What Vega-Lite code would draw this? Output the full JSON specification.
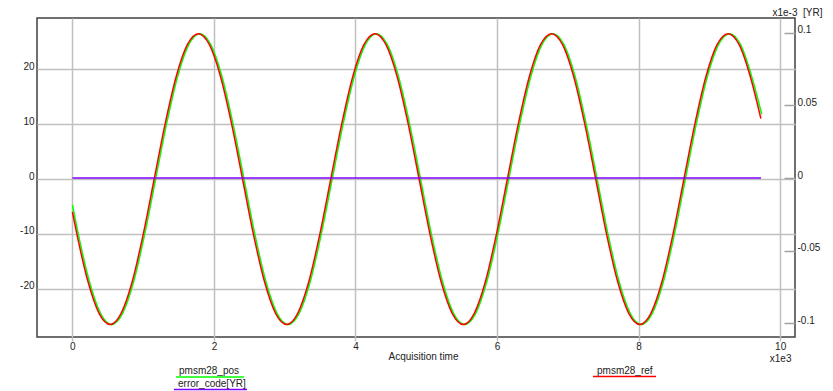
{
  "$schema": "https://vega.github.io/schema/vega-lite/v6.json",
  "width": 758,
  "height": 319,
  "autosize": {"type": "none"},
  "padding": {"left": 37, "top": 18, "right": 38, "bottom": 54},
  "background": "white",
  "config": {
    "view": {"stroke": "#404040", "strokeWidth": 1.5},
    "font": "Liberation Sans"
  },
  "datasets": {
    "pos": [
      {"t": 0, "v": -4.7}, {"t": 0.085, "v": -10.14}, {"t": 0.241, "v": -18.74}, {"t": 0.397, "v": -24.48},
      {"t": 0.553, "v": -26.5}, {"t": 0.709, "v": -24.48}, {"t": 0.865, "v": -18.74}, {"t": 1.02, "v": -10.14},
      {"t": 1.176, "v": 0}, {"t": 1.332, "v": 10.14}, {"t": 1.488, "v": 18.74}, {"t": 1.644, "v": 24.48},
      {"t": 1.8, "v": 26.5}, {"t": 1.956, "v": 24.48}, {"t": 2.112, "v": 18.74}, {"t": 2.268, "v": 10.14},
      {"t": 2.424, "v": 0}, {"t": 2.579, "v": -10.14}, {"t": 2.735, "v": -18.74}, {"t": 2.891, "v": -24.48},
      {"t": 3.048, "v": -26.5}, {"t": 3.204, "v": -24.48}, {"t": 3.36, "v": -18.74}, {"t": 3.515, "v": -10.14},
      {"t": 3.671, "v": 0}, {"t": 3.827, "v": 10.14}, {"t": 3.983, "v": 18.74}, {"t": 4.139, "v": 24.48},
      {"t": 4.295, "v": 26.5}, {"t": 4.451, "v": 24.48}, {"t": 4.607, "v": 18.74}, {"t": 4.763, "v": 10.14},
      {"t": 4.919, "v": 0}, {"t": 5.074, "v": -10.14}, {"t": 5.23, "v": -18.74}, {"t": 5.386, "v": -24.48},
      {"t": 5.543, "v": -26.5}, {"t": 5.699, "v": -24.48}, {"t": 5.855, "v": -18.74}, {"t": 6.01, "v": -10.14},
      {"t": 6.166, "v": 0}, {"t": 6.322, "v": 10.14}, {"t": 6.478, "v": 18.74}, {"t": 6.634, "v": 24.48},
      {"t": 6.79, "v": 26.5}, {"t": 6.946, "v": 24.48}, {"t": 7.102, "v": 18.74}, {"t": 7.258, "v": 10.14},
      {"t": 7.414, "v": 0}, {"t": 7.569, "v": -10.14}, {"t": 7.725, "v": -18.74}, {"t": 7.881, "v": -24.48},
      {"t": 8.038, "v": -26.5}, {"t": 8.194, "v": -24.48}, {"t": 8.35, "v": -18.74}, {"t": 8.505, "v": -10.14},
      {"t": 8.661, "v": 0}, {"t": 8.817, "v": 10.14}, {"t": 8.973, "v": 18.74}, {"t": 9.129, "v": 24.48},
      {"t": 9.285, "v": 26.5}, {"t": 9.441, "v": 24.48}, {"t": 9.597, "v": 18.74}, {"t": 9.74, "v": 11.8}
    ],
    "ref": [
      {"t": 0, "v": -6.0}, {"t": 0.065, "v": -10.14}, {"t": 0.221, "v": -18.74}, {"t": 0.377, "v": -24.48},
      {"t": 0.533, "v": -26.5}, {"t": 0.689, "v": -24.48}, {"t": 0.845, "v": -18.74}, {"t": 1.0, "v": -10.14},
      {"t": 1.156, "v": 0}, {"t": 1.312, "v": 10.14}, {"t": 1.468, "v": 18.74}, {"t": 1.624, "v": 24.48},
      {"t": 1.78, "v": 26.5}, {"t": 1.936, "v": 24.48}, {"t": 2.092, "v": 18.74}, {"t": 2.248, "v": 10.14},
      {"t": 2.404, "v": 0}, {"t": 2.559, "v": -10.14}, {"t": 2.715, "v": -18.74}, {"t": 2.871, "v": -24.48},
      {"t": 3.028, "v": -26.5}, {"t": 3.184, "v": -24.48}, {"t": 3.34, "v": -18.74}, {"t": 3.495, "v": -10.14},
      {"t": 3.651, "v": 0}, {"t": 3.807, "v": 10.14}, {"t": 3.963, "v": 18.74}, {"t": 4.119, "v": 24.48},
      {"t": 4.275, "v": 26.5}, {"t": 4.431, "v": 24.48}, {"t": 4.587, "v": 18.74}, {"t": 4.743, "v": 10.14},
      {"t": 4.899, "v": 0}, {"t": 5.054, "v": -10.14}, {"t": 5.21, "v": -18.74}, {"t": 5.366, "v": -24.48},
      {"t": 5.523, "v": -26.5}, {"t": 5.679, "v": -24.48}, {"t": 5.835, "v": -18.74}, {"t": 5.99, "v": -10.14},
      {"t": 6.146, "v": 0}, {"t": 6.302, "v": 10.14}, {"t": 6.458, "v": 18.74}, {"t": 6.614, "v": 24.48},
      {"t": 6.77, "v": 26.5}, {"t": 6.926, "v": 24.48}, {"t": 7.082, "v": 18.74}, {"t": 7.238, "v": 10.14},
      {"t": 7.394, "v": 0}, {"t": 7.549, "v": -10.14}, {"t": 7.705, "v": -18.74}, {"t": 7.861, "v": -24.48},
      {"t": 8.018, "v": -26.5}, {"t": 8.174, "v": -24.48}, {"t": 8.33, "v": -18.74}, {"t": 8.485, "v": -10.14},
      {"t": 8.641, "v": 0}, {"t": 8.797, "v": 10.14}, {"t": 8.953, "v": 18.74}, {"t": 9.109, "v": 24.48},
      {"t": 9.265, "v": 26.5}, {"t": 9.421, "v": 24.48}, {"t": 9.577, "v": 18.74}, {"t": 9.728, "v": 11.0}
    ],
    "err": [
      {"t": 0, "v": 0}, {"t": 9.73, "v": 0}
    ]
  },
  "layer": [
    {
      "data": {"name": "pos"},
      "mark": {"type": "line", "interpolate": "monotone", "strokeWidth": 1.5, "clip": true},
      "encoding": {
        "x": {
          "field": "t", "type": "quantitative",
          "scale": {"domain": [-0.5, 10.21], "nice": false, "zero": false},
          "axis": {
            "values": [0, 2, 4, 6, 8, 10], "grid": true, "gridColor": "#c0c0c0", "gridWidth": 1.5,
            "domain": false, "ticks": true, "tickColor": "#c0c0c0", "tickSize": 4, "tickWidth": 1.5,
            "labelFont": "Liberation Sans", "labelFontSize": 10, "labelColor": "#222", "labelPadding": 0,
            "labelFlush": false, "labelOverlap": false, "labelLineHeight": 12,
            "labelExpr": "datum.value == 10 ? ['10', 'x1e3'] : '' + datum.value",
            "title": "Acquisition time", "titleFont": "Liberation Sans", "titleFontSize": 10,
            "titleFontWeight": "normal", "titleColor": "#222", "titleX": 386, "titleY": 19,
            "titleBaseline": "middle", "titleAlign": "center"
          }
        },
        "y": {
          "field": "v", "type": "quantitative",
          "scale": {"domain": [-28.8, 29.35], "nice": false, "zero": false},
          "axis": {
            "values": [-20, -10, 0, 10, 20], "grid": true, "gridColor": "#c0c0c0", "gridWidth": 1.5,
            "domain": false, "ticks": false, "labelPadding": 3, "labelBaseline": "alphabetic",
            "labelFont": "Liberation Sans", "labelFontSize": 10, "labelColor": "#222",
            "labelExpr": "'' + datum.value", "title": null
          }
        },
        "color": {
          "datum": "pmsm28_pos",
          "scale": {"range": ["#00ff00"]},
          "legend": {
            "orient": "none", "legendX": 138, "legendY": 318, "title": null,
            "symbolType": "M-1,0.176L1,0.176", "symbolSize": 4624, "symbolStrokeWidth": 1.5,
            "labelOffset": -66, "labelFont": "Liberation Sans", "labelFontSize": 10, "labelColor": "#222"
          }
        }
      }
    },
    {
      "data": {"name": "ref"},
      "mark": {"type": "line", "interpolate": "monotone", "strokeWidth": 1.5, "clip": true},
      "encoding": {
        "x": {
          "field": "t", "type": "quantitative",
          "scale": {"domain": [-0.5, 10.21], "nice": false, "zero": false}
        },
        "y": {
          "field": "v", "type": "quantitative",
          "scale": {"domain": [-28.8, 29.35], "nice": false, "zero": false},
          "axis": null
        },
        "color": {
          "datum": "pmsm28_ref",
          "scale": {"range": ["#ff0000"]},
          "legend": {
            "orient": "none", "legendX": 555, "legendY": 320, "title": null,
            "symbolType": "M-1,0.19L1,0.19", "symbolSize": 3969, "symbolStrokeWidth": 1.5,
            "labelOffset": -60, "labelFont": "Liberation Sans", "labelFontSize": 10, "labelColor": "#222"
          }
        }
      }
    },
    {
      "data": {"name": "err"},
      "mark": {"type": "line", "strokeWidth": 1.5, "clip": true},
      "encoding": {
        "x": {
          "field": "t", "type": "quantitative",
          "scale": {"domain": [-0.5, 10.21], "nice": false, "zero": false}
        },
        "y": {
          "field": "v", "type": "quantitative",
          "scale": {"domain": [-0.1093, 0.11], "nice": false, "zero": false},
          "axis": {
            "orient": "right", "values": [-0.1, -0.05, 0, 0.05, 0.1], "grid": false, "domain": false,
            "ticks": true, "tickSize": -11, "tickColor": "#a0a0a0", "tickWidth": 1.5,
            "labelPadding": 13, "labelBaseline": "alphabetic",
            "labelFont": "Liberation Sans", "labelFontSize": 10, "labelColor": "#222",
            "labelExpr": "'' + datum.value",
            "title": "x1e-3\u00a0\u00a0[YR]", "titleFont": "Liberation Sans", "titleFontSize": 10,
            "titleFontWeight": "normal", "titleColor": "#222", "titleAngle": 0,
            "titleX": -23, "titleY": -6, "titleAlign": "left", "titleBaseline": "middle"
          }
        },
        "color": {
          "datum": "error_code[YR]",
          "scale": {"range": ["#7f00ff"]},
          "legend": {
            "orient": "none", "legendX": 136, "legendY": 328, "title": null,
            "symbolType": "M-1,0.164L1,0.164", "symbolSize": 5329, "symbolStrokeWidth": 1.5,
            "labelOffset": -70, "labelFont": "Liberation Sans", "labelFontSize": 10, "labelColor": "#222"
          }
        }
      }
    }
  ],
  "resolve": {"scale": {"color": "independent", "y": "independent"}}
}
